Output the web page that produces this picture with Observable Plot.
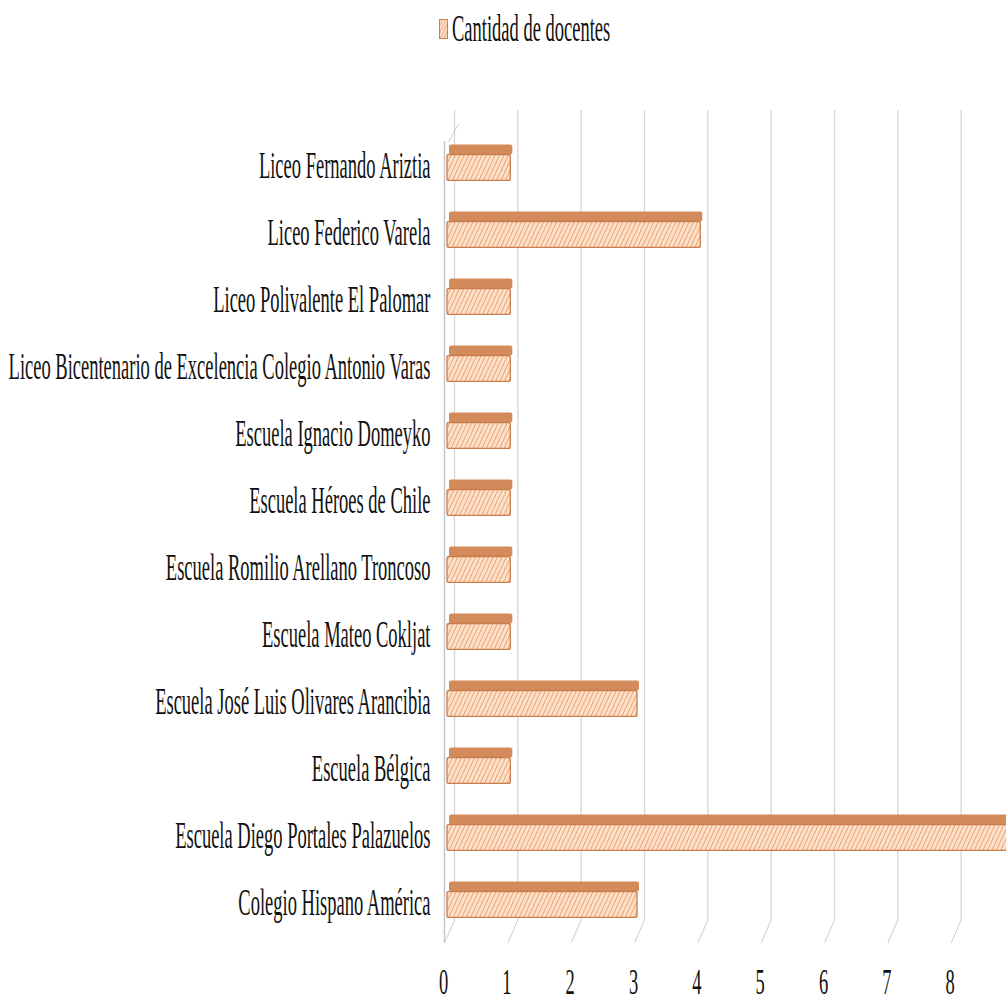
<!DOCTYPE html>
<html><head><meta charset="utf-8">
<script src="https://cdn.jsdelivr.net/npm/d3@7"></script>
<script src="https://cdn.jsdelivr.net/npm/@observablehq/plot@0.6"></script>
<style>
html,body{margin:0;padding:0;background:#fff;overflow:hidden;width:1006px;height:1002px}
#legend{height:80px;position:relative;font-family:"Liberation Serif","Times New Roman",serif;}
#legend .item{position:absolute;left:439px;top:16px;height:26px;display:flex;align-items:center;}
#legend .lab{display:inline-block;font-size:18.5px;line-height:1;transform:scaleY(2.05);transform-origin:left center;margin-left:4px;color:#111;white-space:nowrap}
#chart svg{overflow:hidden}
</style></head><body>
<div id="legend"></div>
<div id="chart"></div>
<script>
const schools = [
  "Liceo Fernando Ariztia",
  "Liceo Federico Varela",
  "Liceo Polivalente El Palomar",
  "Liceo Bicentenario de Excelencia Colegio Antonio Varas",
  "Escuela Ignacio Domeyko",
  "Escuela Héroes de Chile",
  "Escuela Romilio Arellano Troncoso",
  "Escuela Mateo Cokljat",
  "Escuela José Luis Olivares Arancibia",
  "Escuela Bélgica",
  "Escuela Diego Portales Palazuelos",
  "Colegio Hispano América"
];
const teachers = [1, 4, 1, 1, 1, 1, 1, 1, 3, 1, 9, 3];
const xTicks = [0, 1, 2, 3, 4, 5, 6, 7, 8, 9];
const seriesName = "Cantidad de docentes";

const data = schools.map((s, i) => ({school: s, value: teachers[i]}));

// legend
const leg = d3.select("#legend").append("div").attr("class", "item");
const sw = leg.append("svg").attr("width", 9).attr("height", 20);
const sdefs = sw.append("defs");
const sp = sdefs.append("pattern").attr("id", "hatchL").attr("patternUnits", "userSpaceOnUse")
  .attr("width", 3).attr("height", 3).attr("patternTransform", "rotate(25)");
sp.append("rect").attr("width", 3).attr("height", 3).attr("fill", "#fcdcc2");
sp.append("line").attr("x1", 0).attr("y1", 0).attr("x2", 0).attr("y2", 3).attr("stroke", "#e49a66").attr("stroke-width", 1.2);
sw.append("rect").attr("x", 0.5).attr("y", 0.5).attr("width", 8).attr("height", 19)
  .attr("fill", "url(#hatchL)").attr("stroke", "#c98050").attr("stroke-width", 1);
leg.append("span").attr("class", "lab").text(seriesName);

const font = "'Liberation Serif', 'Times New Roman', serif";

const chart = Plot.plot({
  width: 1006,
  height: 922,
  marginLeft: 447,
  marginRight: -11,
  marginTop: 48.5,
  marginBottom: 68.5,
  style: {fontFamily: font, fontSize: "18.5px", color: "#111", background: "#fff"},
  x: {domain: [0, 9]},
  y: {domain: schools, padding: 0},
  marks: [
    // back gridlines
    Plot.ruleX(xTicks, {dx: 7, stroke: "#d6d6d6", strokeWidth: 1.3, insetTop: -18.5, insetBottom: 13.5}),
    // front left wall edge
    Plot.ruleX([0], {dx: -3, stroke: "#c2c6cd", strokeWidth: 1.5, insetTop: 12.5, insetBottom: -9.5}),
    // top face of the 3D bars
    Plot.barX(data, {x: "value", y: "school", fill: "#d48b5b", insetTop: 15.5, insetBottom: 41.6, dx: 2, rx: 2}),
    // front face
    Plot.barX(data, {x: "value", y: "school", fill: "url(#hatch)", stroke: "#c97d4d", strokeWidth: 1.3, insetTop: 25.5, insetBottom: 15.6, rx: 2}),
    Plot.axisY({anchor: "left", tickSize: 0, tickPadding: 17, dy: 3, fontSize: "18.5px", fill: "#111", label: null}),
    Plot.axisX({anchor: "bottom", ticks: xTicks, tickSize: 10, tickPadding: 25, dx: -4, stroke: "#c9ccd2", fontSize: "18.5px", fill: "#111", label: null, tickFormat: d3.format("d")}),
    Plot.axisX({anchor: "top", ticks: [0], tickSize: 10, tickFormat: () => "", stroke: "#c9ccd2", label: null})
  ]
});
document.getElementById("chart").appendChild(chart);

const svg = d3.select(chart);
svg.style("font-family", font);
const defs = svg.insert("defs", ":first-child");
const p = defs.append("pattern").attr("id", "hatch").attr("patternUnits", "userSpaceOnUse")
  .attr("width", 4).attr("height", 4).attr("patternTransform", "rotate(25)");
p.append("rect").attr("width", 4).attr("height", 4).attr("fill", "#fde0c8");
p.append("line").attr("x1", 0).attr("y1", 0).attr("x2", 0).attr("y2", 4).attr("stroke", "#e59c69").attr("stroke-width", 1.7);

// perspective floor / wall ticks
svg.selectAll('[aria-label="x-axis tick"] path').each(function() {
  const t = this.getAttribute("transform") || "";
  const m = /translate\(([-\d.]+),([-\d.]+)\)/.exec(t);
  if (!m) return;
  const y = +m[2];
  if (y < 100) d3.select(this).attr("d", "M11,-5.5L1,12.5");
  else d3.select(this).attr("d", "M11,-13.5L1,9.5");
});
// stretched condensed-looking text
svg.selectAll('[aria-label="y-axis tick label"] text').each(function() {
  this.setAttribute("transform", (this.getAttribute("transform") || "") + " scale(1,2)");
  this.style.fontFamily = font;
});
svg.selectAll('[aria-label="x-axis tick label"] text').each(function() {
  this.setAttribute("transform", (this.getAttribute("transform") || "") + " scale(1,1.9)");
  this.style.fontFamily = font;
});
</script>
</body></html>
